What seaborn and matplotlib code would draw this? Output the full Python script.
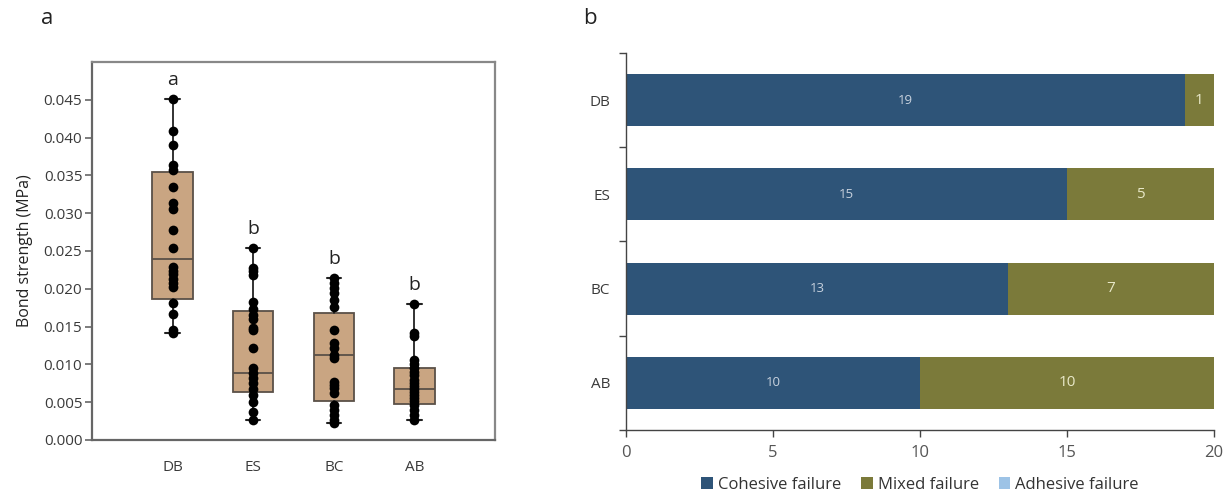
import numpy as np
import pandas as pd
import seaborn as sns
import matplotlib.pyplot as plt

# ---- panel a: bond strength (MPa) per group ----
groups = ["DB", "ES", "BC", "AB"]
db_vals = [0.0451, 0.0409, 0.0390, 0.0364, 0.0357, 0.0335, 0.0314, 0.0305, 0.0278, 0.0254,
           0.0229, 0.0224, 0.0219, 0.0213, 0.0207, 0.0202, 0.0181, 0.0167, 0.0145, 0.0141]
es_vals = [0.0254, 0.0228, 0.0223, 0.0218, 0.0182, 0.0173, 0.0165, 0.0160, 0.0148, 0.0146,
           0.0122, 0.0095, 0.0089, 0.0082, 0.0075, 0.0068, 0.0060, 0.0050, 0.0037, 0.0026]
bc_vals = [0.0214, 0.0208, 0.0201, 0.0195, 0.0185, 0.0176, 0.0146, 0.0128, 0.0122, 0.0112,
           0.0108, 0.0077, 0.0073, 0.0069, 0.0062, 0.0046, 0.0040, 0.0033, 0.0026, 0.0022]
ab_vals = [0.0180, 0.0141, 0.0137, 0.0106, 0.0100, 0.0095, 0.0090, 0.0086, 0.0080, 0.0076,
           0.0072, 0.0068, 0.0064, 0.0060, 0.0056, 0.0052, 0.0046, 0.0040, 0.0033, 0.0027]
# box statistics as drawn in the figure
box_q1 = [0.0186, 0.0063, 0.0052, 0.0047]
box_med = [0.0240, 0.0089, 0.0112, 0.0068]
box_q3 = [0.0354, 0.0170, 0.0168, 0.0095]
sig_letters = ["a", "b", "b", "b"]

# ---- panel b: failure mode counts ----
fail_groups = ["DB", "ES", "BC", "AB"]
cohesive = [19, 15, 13, 10]
mixed = [1, 5, 7, 10]
adhesive = [0, 0, 0, 0]

sns.set_style("white")
plt.rcParams["font.family"] = ["Open Sans", "DejaVu Sans"]
TXT = "#3a3a3a"

fig = plt.figure(figsize=(12.32, 4.97), dpi=100)
ax1 = fig.add_axes([0.0747, 0.1147, 0.3271, 0.7606])
ax2 = fig.add_axes([0.5081, 0.1348, 0.4773, 0.7586])

# --- panel a ---
all_vals = [db_vals, es_vals, bc_vals, ab_vals]
df = pd.DataFrame({
    "group": np.repeat(groups, [len(v) for v in all_vals]),
    "value": np.concatenate(all_vals),
})

stats = []
for i, g in enumerate(groups):
    stats.append({"med": box_med[i], "q1": box_q1[i], "q3": box_q3[i],
                  "whislo": min(all_vals[i]), "whishi": max(all_vals[i]),
                  "fliers": [], "label": g})
ax1.bxp(stats, positions=range(len(groups)), widths=0.5, patch_artist=True,
        boxprops=dict(facecolor="#c9a582", edgecolor="#5a5048", linewidth=1.3),
        medianprops=dict(color="#5a5048", linewidth=1.3),
        whiskerprops=dict(color="#222222", linewidth=1.3),
        capprops=dict(color="#222222", linewidth=1.5), capwidths=0.18,
        showfliers=False, zorder=2)
sns.stripplot(data=df, x="group", y="value", order=groups, jitter=False,
              color="black", size=7, ax=ax1, zorder=3)

for i, lt in enumerate(sig_letters):
    ax1.text(i, max(all_vals[i]) + 0.0025, lt, ha="center", va="center",
             fontsize=14, color="#222222")

ax1.set_xlim(-1, 4)
ax1.set_ylim(0, 0.05)
ax1.set_xticks(range(len(groups)))
ax1.set_xticklabels(groups)
ax1.set_yticks(np.arange(0, 0.0451, 0.005))
ax1.set_yticklabels([f"{t:.3f}" for t in np.arange(0, 0.0451, 0.005)])
ax1.set_xlabel("")
ax1.set_ylabel("Bond strength (MPa)", fontsize=11.5, color="#222222", labelpad=8)
ax1.tick_params(axis="y", left=True, length=5, width=1.2, color="#666666",
                labelsize=11, labelcolor=TXT, pad=2)
ax1.tick_params(axis="x", bottom=False, labelsize=11, labelcolor=TXT, pad=11)
for s in ax1.spines.values():
    s.set_color("#888888")
    s.set_linewidth(1.6)
ax1.spines["left"].set_color("#666666")
ax1.spines["bottom"].set_color("#666666")

# --- panel b ---
y = np.arange(len(fail_groups))
bar_h = 0.55
c_coh, c_mix, c_adh = "#2e5478", "#7b7a3a", "#9dc3e6"
ax2.barh(y, cohesive, height=bar_h, color=c_coh, linewidth=0, label="Cohesive failure")
ax2.barh(y, mixed, left=cohesive, height=bar_h, color=c_mix, linewidth=0,
         label="Mixed failure")
ax2.barh(y, adhesive, left=np.add(cohesive, mixed), height=bar_h, color=c_adh,
         linewidth=0, label="Adhesive failure")
for i in range(len(fail_groups)):
    ax2.text(cohesive[i] / 2, y[i], str(cohesive[i]), ha="center", va="center",
             color="#c8d2de", fontsize=9.5)
    if mixed[i] > 0:
        ax2.text(cohesive[i] + mixed[i] / 2, y[i], str(mixed[i]), ha="center",
                 va="center", color="#e8e8c8", fontsize=11)

ax2.set_xlim(0, 20)
ax2.set_ylim(len(fail_groups) - 0.5, -0.5)
ax2.set_yticks(y)
ax2.set_yticklabels(fail_groups)
ax2.set_yticks(np.arange(-0.5, len(fail_groups)), minor=True)
ax2.set_xticks([0, 5, 10, 15, 20])
ax2.tick_params(axis="y", which="major", left=False, labelsize=11, labelcolor=TXT, pad=8)
ax2.tick_params(axis="y", which="minor", left=True, length=5, width=1, color="#444444")
ax2.tick_params(axis="x", bottom=True, length=5, width=1, color="#444444",
                labelsize=12, labelcolor="#555555", pad=6)
sns.despine(ax=ax2, top=True, right=True)
ax2.spines["left"].set_color("#444444")
ax2.spines["bottom"].set_color("#444444")
ax2.spines["left"].set_linewidth(1)
ax2.spines["bottom"].set_linewidth(1)

ax2.legend(loc="upper center", bbox_to_anchor=(0.5, -0.085), ncol=3, frameon=False,
           fontsize=12, handlelength=0.7, handleheight=0.7, handletextpad=0.3,
           columnspacing=1.2, labelcolor="#333333")

fig.text(47 / 1232, 1 - 18 / 497, "a", fontsize=16, ha="center", va="center", color="#222222")
fig.text(590 / 1232, 1 - 18 / 497, "b", fontsize=16, ha="center", va="center", color="#222222")

fig.savefig("out.png", dpi=100)
